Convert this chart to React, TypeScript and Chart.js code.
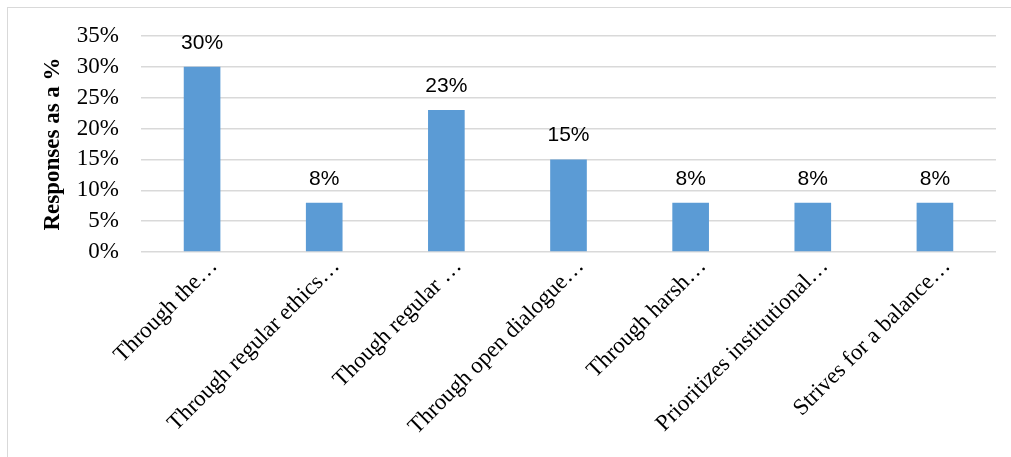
import React, { useEffect, useRef } from "react";
import { Chart, registerables } from "chart.js";

Chart.register(...registerables);

const categories: string[] = [
  "Through the…",
  "Through regular ethics…",
  "Though regular …",
  "Through open dialogue…",
  "Through harsh…",
  "Prioritizes institutional…",
  "Strives for a balance…",
];
const responses: number[] = [30, 8, 23, 15, 8, 8, 8];
const yTicks: number[] = [0, 5, 10, 15, 20, 25, 30, 35];
const yTitle = "Responses as a %";

const valueLabels = {
  id: "valueLabels",
  afterDatasetsDraw(chart: any) {
    const { ctx } = chart;
    const meta = chart.getDatasetMeta(0);
    ctx.save();
    ctx.font = "21px 'Liberation Sans', Arial, sans-serif";
    ctx.fillStyle = "#000000";
    ctx.textAlign = "center";
    ctx.textBaseline = "alphabetic";
    meta.data.forEach((bar: any, i: number) => {
      ctx.fillText(responses[i] + "%", bar.x, bar.y - 18);
    });
    ctx.restore();
  },
};

export default function App() {
  const ref = useRef<HTMLCanvasElement | null>(null);
  useEffect(() => {
    if (!ref.current) return;
    const chart = new Chart(ref.current, {
      type: "bar",
      data: {
        labels: categories,
        datasets: [
          {
            data: responses,
            backgroundColor: "#5B9BD5",
            borderWidth: 0,
            barPercentage: 0.6,
            categoryPercentage: 0.5,
          },
        ],
      },
      options: {
        animation: false,
        responsive: false,
        maintainAspectRatio: false,
        layout: { padding: { left: 0, top: 36, right: 15, bottom: 0 } },
        plugins: {
          legend: { display: false },
          tooltip: { enabled: false },
        },
        scales: {
          x: {
            grid: { display: false, drawTicks: false },
            border: { display: false },
            ticks: {
              autoSkip: false,
              maxRotation: 45,
              minRotation: 45,
              padding: 1,
              labelOffset: 12,
              color: "#000000",
              font: { family: "'Liberation Serif', 'Times New Roman', serif", size: 23 },
            },
            afterFit: (scale: any) => {
              scale.height = 205;
            },
          },
          y: {
            min: 0,
            max: 35,
            afterBuildTicks: (scale: any) => {
              scale.ticks = yTicks.map((v) => ({ value: v }));
            },
            grid: { color: "#d9d9d9", lineWidth: 1.5, drawTicks: false },
            border: { display: false },
            ticks: {
              padding: 22,
              color: "#000000",
              font: { family: "'Liberation Serif', 'Times New Roman', serif", size: 23 },
              callback: (v: any) => v + "%",
            },
            title: {
              display: true,
              text: yTitle,
              color: "#000000",
              padding: { top: 39, bottom: 0 },
              font: { family: "'Liberation Serif', 'Times New Roman', serif", size: 23, weight: "bold" },
            },
            afterFit: (scale: any) => {
              scale.width = 141;
            },
          },
        },
      },
      plugins: [valueLabels],
    });
    return () => chart.destroy();
  }, []);

  return (
    <div style={{ position: "absolute", left: 0, top: 0, width: 1011, height: 457, background: "#ffffff", overflow: "hidden" }}>
      <div
        style={{
          position: "absolute",
          left: 7,
          top: 7,
          width: 1020,
          height: 470,
          borderLeft: "1.5px solid #d9d9d9",
          borderTop: "1.5px solid #d9d9d9",
          boxSizing: "border-box",
        }}
      />
      <canvas ref={ref} width={1011} height={457} style={{ position: "absolute", left: 0, top: 0 }} />
    </div>
  );
}
